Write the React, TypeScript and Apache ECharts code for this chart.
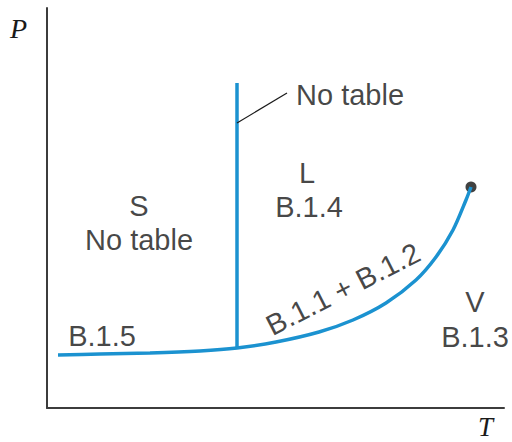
import React, { useEffect, useRef } from "react";
import * as echarts from "echarts";

// Phase boundary curve (sublimation + vaporization), T vs P in arbitrary units
const curveT = [11, 53, 103, 153, 190, 229, 272, 306, 339, 369, 389, 406, 419, 424];
const curveP = [53, 54, 55, 57, 60, 66, 76, 88, 105, 128, 151, 178, 208, 221];

// Melting line (vertical) from triple point upward
const meltT = [190, 190];
const meltP = [60, 325];

// Leader line for the "No table" callout
const leaderT = [190, 240];
const leaderP = [285, 315];

// Critical point
const criticalT = [424];
const criticalP = [221];

// Region labels
const labelTexts = ["S", "No table", "L", "B.1.4", "V", "B.1.3", "B.1.5", "B.1.1 + B.1.2"];
const labelT = [92, 92, 260, 262, 428, 428, 55, 296];
const labelP = [202, 168, 235, 201, 106, 71, 72, 119];
const labelRotate = [0, 0, 0, 0, 0, 0, 0, 27];

const calloutText = ["No table"];
const calloutT = [249];
const calloutP = [313];

const BLUE = "#1b92d0";
const AXIS = "#3c3c3c";
const FONT = "'Liberation Sans', Arial, sans-serif";

export default function App() {
  const ref = useRef<HTMLDivElement>(null);
  useEffect(() => {
    document.body.style.margin = "0";
    const chart = echarts.init(ref.current!, null, { renderer: "svg" });
    const zip = (a: number[], b: number[]) => a.map((v, i) => [v, b[i]]);
    chart.setOption({
      animation: false,
      backgroundColor: "#ffffff",
      grid: { left: 47, right: 8, top: 8, bottom: 34 },
      xAxis: {
        type: "value",
        min: 0,
        max: 457,
        axisLine: { show: true, lineStyle: { color: AXIS, width: 2 } },
        axisTick: { show: false },
        axisLabel: { show: false },
        splitLine: { show: false },
      },
      yAxis: {
        type: "value",
        min: 0,
        max: 400,
        axisLine: { show: true, lineStyle: { color: AXIS, width: 2 } },
        axisTick: { show: false },
        axisLabel: { show: false },
        splitLine: { show: false },
      },
      graphic: [
        {
          type: "text",
          left: 10,
          top: 14,
          style: {
            text: "P",
            font: "italic 28px 'Liberation Serif', 'Times New Roman', serif",
            fill: "#1a1a1a",
          },
        },
        {
          type: "text",
          left: 478,
          top: 413,
          style: {
            text: "T",
            font: "italic 27px 'Liberation Serif', 'Times New Roman', serif",
            fill: "#1a1a1a",
          },
        },
      ],
      series: [
        {
          type: "line",
          data: zip(curveT, curveP),
          smooth: 0.3,
          showSymbol: false,
          lineStyle: { color: BLUE, width: 3.5 },
        },
        {
          type: "line",
          data: zip(meltT, meltP),
          showSymbol: false,
          lineStyle: { color: BLUE, width: 3.5 },
        },
        {
          type: "line",
          data: zip(leaderT, leaderP),
          showSymbol: false,
          lineStyle: { color: "#1a1a1a", width: 1.2 },
        },
        {
          type: "scatter",
          data: zip(criticalT, criticalP),
          symbolSize: 11,
          itemStyle: { color: "#111" },
        },
        {
          type: "scatter",
          symbolSize: 0,
          data: labelTexts.map((t, i) => ({
            value: [labelT[i], labelP[i]],
            label: {
              show: true,
              formatter: t,
              position: "inside",
              rotate: labelRotate[i],
              fontFamily: FONT,
              fontSize: 29,
              color: "#161616",
            },
          })),
        },
        {
          type: "scatter",
          symbolSize: 0,
          data: calloutText.map((t, i) => ({
            value: [calloutT[i], calloutP[i]],
            label: {
              show: true,
              formatter: t,
              position: "right",
              distance: 0,
              fontFamily: FONT,
              fontSize: 29,
              color: "#161616",
            },
          })),
        },
      ],
    });
    return () => chart.dispose();
  }, []);
  return <div ref={ref} style={{ width: 512, height: 442 }} />;
}
